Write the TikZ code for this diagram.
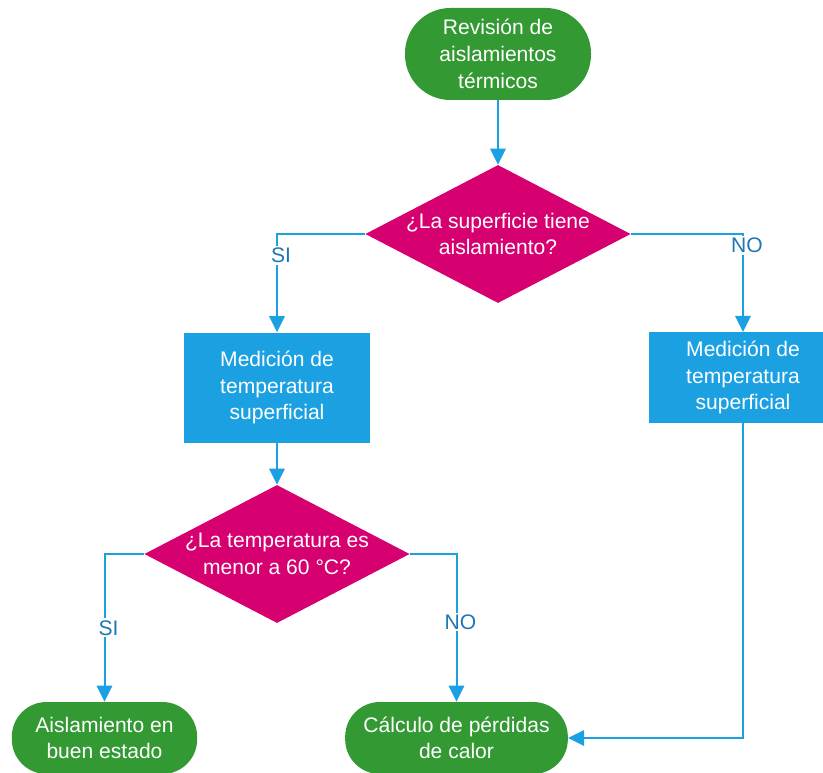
\documentclass[tikz,border=0pt]{standalone}
\usepackage{fontspec}
\setmainfont{Liberation Sans}
\usetikzlibrary{shapes.geometric,arrows.meta}
\definecolor{termgreen}{RGB}{51,153,51}
\definecolor{decmagenta}{RGB}{214,0,112}
\definecolor{procblue}{RGB}{27,161,226}
\definecolor{labblue}{RGB}{31,120,180}
\begin{document}
\begin{tikzpicture}[x=.75pt,y=-.75pt,
    font=\fontsize{15.8pt}{20pt}\selectfont,
    >={Triangle[width=11.5pt,length=12pt]},
    term/.style={rectangle,rounded corners=26pt,fill=termgreen,text=white,
      align=center,inner sep=0pt},
    decision/.style={diamond,aspect=1.93,fill=decmagenta,text=white,
      align=center,inner sep=0pt,minimum width=199pt,minimum height=103.5pt},
    proc/.style={rectangle,fill=procblue,text=white,align=center,inner sep=0pt},
    flow/.style={draw=procblue,line width=1.5pt},
    lab/.style={fill=white,text=labblue,inner sep=1.5pt,xshift=3pt}]
  \useasboundingbox (0,0) rectangle (823,773);
  \node[term,minimum width=139.5pt,minimum height=69pt,rounded corners=34pt]
    (start) at (498,54) {Revisión de\\aislamientos\\térmicos};
  \node[decision] (insul) at (498,234) {¿La superficie tiene\\aislamiento?};
  \node[proc,minimum width=139.5pt,minimum height=82.5pt]
    (measL) at (277,387.5) {Medición de\\temperatura\\superficial};
  \node[proc,minimum width=141pt,minimum height=68pt]
    (measR) at (743,377.5) {Medición de\\temperatura\\superficial};
  \node[decision] (temp) at (277,554) {¿La temperatura es\\menor a 60 °C?};
  \node[term,minimum width=139pt,minimum height=54pt]
    (good) at (104.5,738) {Aislamiento en\\buen estado};
  \node[term,minimum width=167pt,minimum height=54pt]
    (loss) at (456.5,738) {Cálculo de pérdidas\\de calor};
  \draw[flow,->] (start) -- (insul);
  \draw[flow,->] (insul.west) -| (measL.north) node[lab,pos=.61] {SI};
  \draw[flow,->] (insul.east) -| (measR.north) node[lab,pos=.56] {NO};
  \draw[flow,->] (measL) -- (temp);
  \draw[flow,->] (temp.west) -| (good.north) node[lab,pos=.75] {SI};
  \draw[flow,->] (temp.east) -| (loss.north) node[lab,pos=.73] {NO};
  \draw[flow,->] (measR.south) |- (loss.east);
\end{tikzpicture}
\end{document}
